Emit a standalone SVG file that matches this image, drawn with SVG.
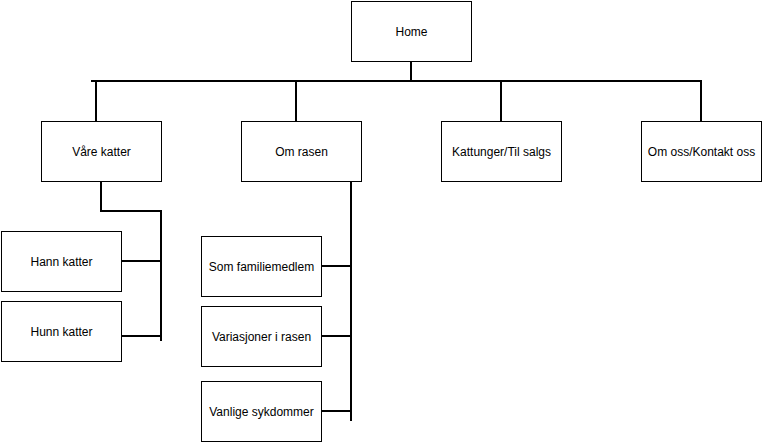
<svg xmlns="http://www.w3.org/2000/svg" width="763" height="443" viewBox="0 0 763 443">
<style>
.box{fill:#fff;stroke:#000;stroke-width:1}
.lbl{font-family:"Liberation Sans",Arial,sans-serif;font-size:12px;fill:#000;text-anchor:middle;dominant-baseline:central}
.con{fill:none;stroke:#000;stroke-width:2}
</style>
<rect width="763" height="443" fill="#fff"/>
<g id="connectors">
<path class="con" d="M411 61V81M91 81H702M96 81V121M296 81V121M501 81V121M701 81V121"/>
<path class="con" d="M101 181V211H161V341M121 261H161M121 336H161"/>
<path class="con" d="M351 181V421M321 266H351M321 336H351M321 411H351"/>
</g>
<g id="home"><rect class="box" x="351.5" y="1.5" width="120" height="60"/><text class="lbl" x="411.5" y="31.5">Home</text></g>
<g id="vare-katter"><rect class="box" x="41.5" y="121.5" width="120" height="60"/><text class="lbl" x="101.5" y="151.5">Våre katter</text></g>
<g id="om-rasen"><rect class="box" x="241.5" y="121.5" width="120" height="60"/><text class="lbl" x="301.5" y="151.5">Om rasen</text></g>
<g id="kattunger"><rect class="box" x="441.5" y="121.5" width="120" height="60"/><text class="lbl" x="501.5" y="151.5">Kattunger/Til salgs</text></g>
<g id="om-oss"><rect class="box" x="641.5" y="121.5" width="120" height="60"/><text class="lbl" x="701.5" y="151.5">Om oss/Kontakt oss</text></g>
<g id="hann-katter"><rect class="box" x="1.5" y="231.5" width="120" height="60"/><text class="lbl" x="61.5" y="261.5">Hann katter</text></g>
<g id="hunn-katter"><rect class="box" x="1.5" y="301.5" width="120" height="60"/><text class="lbl" x="61.5" y="331.5">Hunn katter</text></g>
<g id="som-familiemedlem"><rect class="box" x="201.5" y="236.5" width="120" height="60"/><text class="lbl" x="261.5" y="266.5">Som familiemedlem</text></g>
<g id="variasjoner"><rect class="box" x="201.5" y="306.5" width="120" height="60"/><text class="lbl" x="261.5" y="336.5">Variasjoner i rasen</text></g>
<g id="vanlige-sykdommer"><rect class="box" x="201.5" y="381.5" width="120" height="60"/><text class="lbl" x="261.5" y="411.5">Vanlige sykdommer</text></g>
</svg>
